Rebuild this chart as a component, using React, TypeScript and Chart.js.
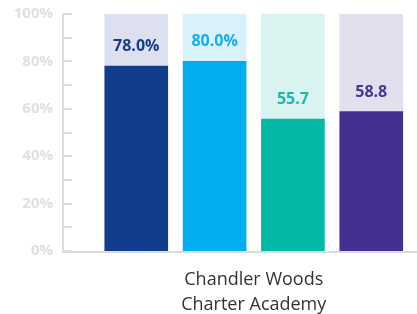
import React, { useEffect, useRef } from "react";
import { Chart, registerables } from "chart.js";

Chart.register(...registerables);

const categoryLines = ["Chandler Woods", "Charter Academy"];
const barPositions = [0, 1, 2, 3];
const values = [78.0, 80.0, 55.7, 58.8];
const valueLabels = ["78.0%", "80.0%", "55.7", "58.8"];
const fgColors = ["#123c8c", "#00aeef", "#04b8a8", "#46308f"];
const bgColors = ["#dde0ef", "#d9f1fb", "#d9f3f0", "#e2dfee"];
const labelColors = ["#1a3d8c", "#12aeef", "#1cb8a8", "#4a3490"];
const yTickValues = [0, 10, 20, 30, 40, 50, 60, 70, 80, 90, 100];

const FONT = "'Open Sans', sans-serif";
const AXIS_GRAY = "#dcdcdc";

const decorPlugin = {
  id: "decor",
  beforeDatasetsDraw(chart: any) {
    const { ctx, chartArea, scales } = chart;
    const y = scales.y;
    ctx.save();
    ctx.strokeStyle = AXIS_GRAY;
    ctx.lineWidth = 2;
    ctx.beginPath();
    ctx.moveTo(chartArea.left + 1, y.getPixelForValue(100));
    ctx.lineTo(chartArea.left + 1, y.getPixelForValue(0) + 2);
    ctx.stroke();
    yTickValues.forEach((v) => {
      const py = Math.round(y.getPixelForValue(v));
      ctx.beginPath();
      ctx.moveTo(chartArea.left + 1, py);
      ctx.lineTo(chartArea.left + 10, py);
      ctx.stroke();
    });
    ctx.restore();
  },
  afterDatasetsDraw(chart: any) {
    const { ctx, chartArea, scales } = chart;
    const y = scales.y;
    ctx.save();
    ctx.strokeStyle = AXIS_GRAY;
    ctx.lineWidth = 2;
    const by = y.getPixelForValue(0) + 1;
    ctx.beginPath();
    ctx.moveTo(chartArea.left, by);
    ctx.lineTo(chart.width, by);
    ctx.stroke();
    const meta = chart.getDatasetMeta(0);
    ctx.font = `bold 16px ${FONT}`;
    ctx.textAlign = "center";
    ctx.textBaseline = "middle";
    meta.data.forEach((el: any, i: number) => {
      ctx.fillStyle = labelColors[i];
      ctx.fillText(valueLabels[i], el.x, el.y - 19.5);
    });
    ctx.restore();
  },
};

export default function App() {
  const ref = useRef<HTMLCanvasElement | null>(null);
  useEffect(() => {
    if (!ref.current) return;
    const chart = new Chart(ref.current, {
      type: "bar",
      data: {
        datasets: [
          {
            stack: "s",
            data: barPositions.map((x, i) => ({ x, y: values[i] })),
            backgroundColor: fgColors,
            barThickness: 63,
            borderWidth: 0,
          },
          {
            stack: "s",
            data: barPositions.map((x, i) => ({ x, y: 100 - values[i] })),
            backgroundColor: bgColors,
            barThickness: 63,
            borderWidth: 0,
          },
        ],
      },
      options: {
        animation: false,
        responsive: false,
        events: [],
        layout: { padding: { top: 14, right: 0, left: 0, bottom: 0 } },
        plugins: { legend: { display: false }, tooltip: { enabled: false } },
        scales: {
          x: {
            type: "linear",
            offset: false,
            min: -0.948,
            max: 3.584,
            grid: { display: false, offset: false, drawTicks: false },
            border: { display: false },
            afterBuildTicks: (axis: any) => {
              axis.ticks = [{ value: 1.5 }];
            },
            afterFit: (axis: any) => {
              axis.height = 63;
            },
            ticks: {
              autoSkip: false,
              maxRotation: 0,
              padding: 16,
              color: "#333333",
              font: { family: FONT, size: 18, lineHeight: 1.4 },
              callback: () => categoryLines,
            },
          },
          y: {
            min: 0,
            max: 100,
            grid: { display: false, drawTicks: false },
            border: { display: false },
            afterFit: (axis: any) => {
              axis.width = 62;
              axis.paddingTop = 0;
              axis.paddingBottom = 0;
            },
            ticks: {
              stepSize: 20,
              padding: 9,
              color: "#e0e0e0",
              font: { family: FONT, size: 15, weight: "bold" },
              callback: (v: any) => `${v}%`,
            },
          },
        },
      },
      plugins: [decorPlugin],
    });
    return () => chart.destroy();
  }, []);
  return (
    <div style={{ position: "absolute", left: 0, top: 0, width: 417, height: 314 }}>
      <canvas ref={ref} width={417} height={314} style={{ display: "block" }} />
    </div>
  );
}
